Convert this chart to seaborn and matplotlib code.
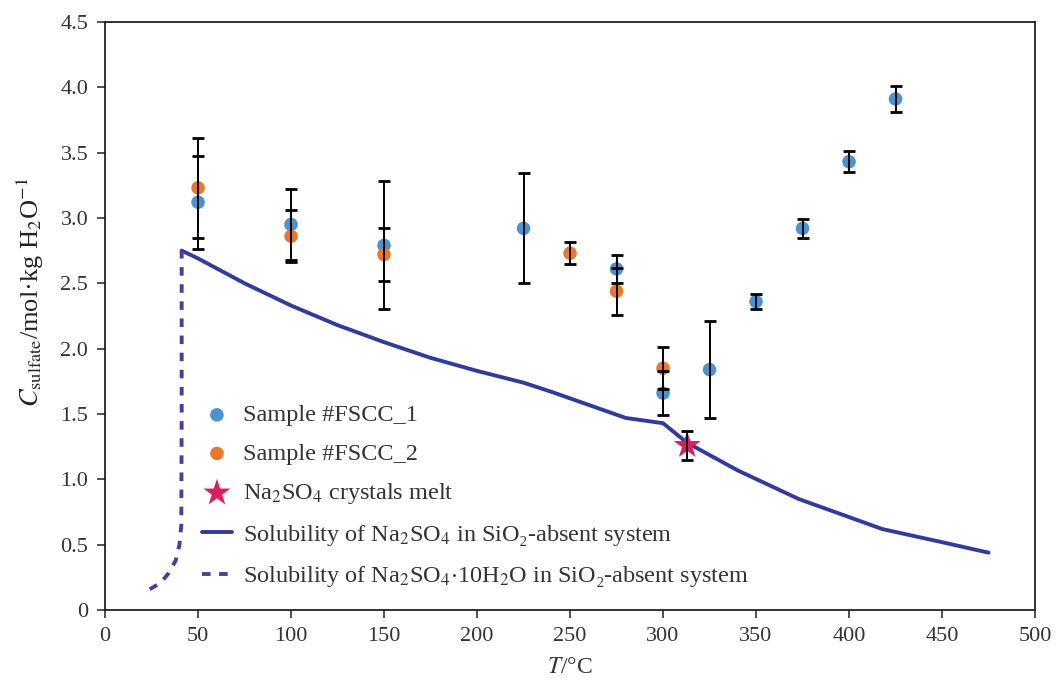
import numpy as np
import pandas as pd
import seaborn as sns
import matplotlib
matplotlib.use("Agg")
import matplotlib.pyplot as plt

# measured sulfate concentrations (T in degC, C in mol/kg H2O)
t_fscc1 = [50, 100, 150, 225, 275, 300, 325, 350, 375, 400, 425]
c_fscc1 = [3.12, 2.95, 2.79, 2.92, 2.61, 1.66, 1.84, 2.36, 2.92, 3.43, 3.91]
err_fscc1 = [0.355, 0.27, 0.49, 0.42, 0.11, 0.17, 0.37, 0.055, 0.075, 0.08, 0.10]

t_fscc2 = [50, 100, 150, 250, 275, 300]
c_fscc2 = [3.23, 2.86, 2.72, 2.73, 2.44, 1.85]
err_fscc2 = [0.38, 0.20, 0.20, 0.085, 0.18, 0.16]

t_melt = [313]
c_melt = [1.26]
err_melt = [0.11]

# solubility curves
t_na2so4 = [41.2, 50, 75, 100, 125, 150, 175, 200, 225, 240, 260, 280, 300, 313, 340, 373, 418, 450, 475]
c_na2so4 = [2.75, 2.69, 2.50, 2.33, 2.18, 2.05, 1.93, 1.83, 1.74, 1.67, 1.57, 1.47, 1.43, 1.28, 1.07, 0.85, 0.62, 0.52, 0.44]
t_hydrate = [24, 30, 34, 38, 40, 41, 41.2, 41.2]
c_hydrate = [0.16, 0.21, 0.28, 0.38, 0.50, 0.65, 1.5, 2.75]

sns.set_style("ticks")
plt.rcParams["font.family"] = ["Liberation Serif", "DejaVu Serif"]
plt.rcParams["mathtext.fontset"] = "stix"

blue = "#4a93cf"
orange = "#e9772c"
star_col = "#dc1f5a"
navy = "#2f3c9c"
purple = "#4b3c9e"

fig = plt.figure(figsize=(10.62, 6.81), dpi=100)
ax = fig.add_axes([0.0989, 0.104, 0.8757, 0.864])

sns.lineplot(x=t_na2so4, y=c_na2so4, ax=ax, color=navy, lw=2.8, sort=False,
             estimator=None, errorbar=None,
             label=r"Solubility of Na$_2$SO$_4$ in SiO₂-absent system", zorder=2)
sns.lineplot(x=t_hydrate, y=c_hydrate, ax=ax, color=purple, lw=2.8, sort=False,
             estimator=None, errorbar=None, linestyle=(0, (2.2, 2.2)),
             label=r"Solubility of Na$_2$SO$_4$$\cdot$10H$_2$O in SiO₂-absent system", zorder=2)

sns.scatterplot(x=t_fscc1, y=c_fscc1, ax=ax, color=blue, s=95, edgecolor="none",
                label="Sample #FSCC_1", zorder=3)
sns.scatterplot(x=t_fscc2, y=c_fscc2, ax=ax, color=orange, s=95, edgecolor="none",
                label="Sample #FSCC_2", zorder=3)
sns.scatterplot(x=t_melt, y=c_melt, ax=ax, color=star_col, marker="*", s=420,
                edgecolor="none", label=r"Na$_2$SO$_4$ crystals melt", zorder=3)

for t, c, e in [(t_fscc1, c_fscc1, err_fscc1), (t_fscc2, c_fscc2, err_fscc2),
                (t_melt, c_melt, err_melt)]:
    ax.errorbar(t, c, yerr=e, fmt="none", ecolor="black", elinewidth=1.4,
                capsize=4.5, capthick=2, zorder=4)

ax.set_xlim(0, 500)
ax.set_ylim(0, 4.5)
ax.set_xticks(np.arange(0, 501, 50))
ax.set_yticks(np.arange(0, 4.51, 0.5))
ax.set_yticklabels(["0"] + [f"{v:.1f}" for v in np.arange(0.5, 4.51, 0.5)])
ax.tick_params(direction="out", length=6, width=1.2, labelsize=16, colors="#333333", pad=6)
for sp in ax.spines.values():
    sp.set_color("#222222")
    sp.set_linewidth(1.3)

ax.set_xlabel(r"$T$/°C", fontsize=17, color="#333333", labelpad=8)
ax.set_ylabel(r"$C_{\mathrm{sulfate}}$/mol·kg H$_2$O$^{-1}$", fontsize=19, color="#222222")
ax.yaxis.set_label_coords(-0.064, 0.54)

handles, labels = ax.get_legend_handles_labels()
order = [2, 3, 4, 0, 1]
ax.legend([handles[i] for i in order], [labels[i] for i in order],
          loc="upper left", bbox_to_anchor=(0.104, 0.35), frameon=False,
          borderpad=0, borderaxespad=0,
          fontsize=17.5, labelspacing=0.68, handlelength=1.25, handletextpad=0.45,
          labelcolor="#333333")

fig.savefig("out.png", dpi=100)
